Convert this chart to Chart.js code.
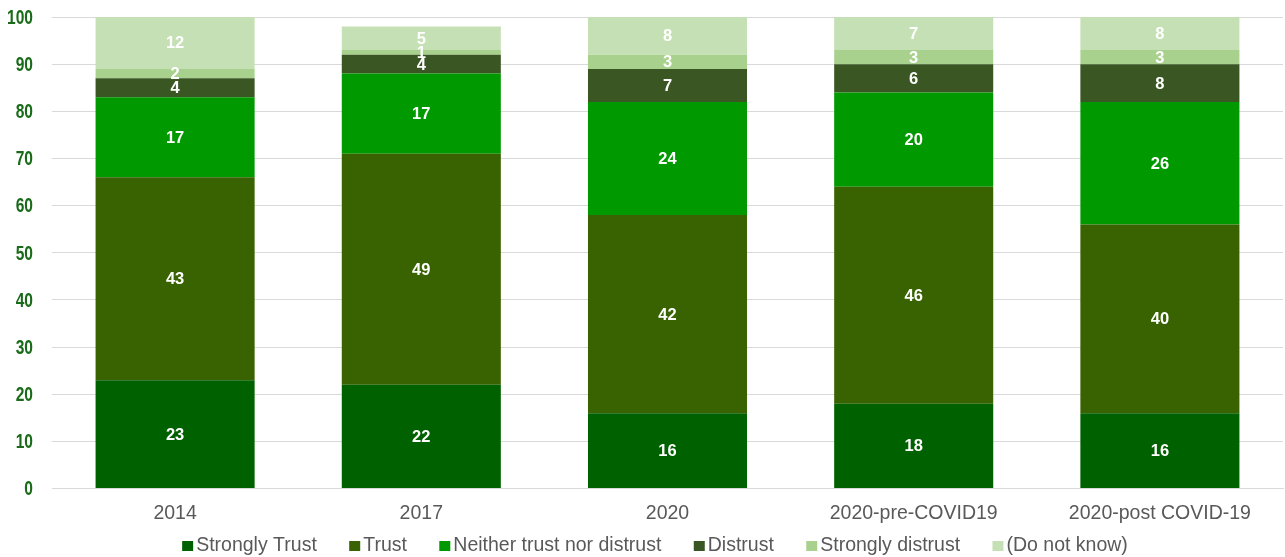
<!DOCTYPE html>
<html>
<head>
<meta charset="utf-8">
<script src="https://cdn.jsdelivr.net/npm/chart.js@4/dist/chart.umd.min.js"></script>
<style>
  html, body { margin: 0; padding: 0; background: #fff; }
  #wrap { width: 1285px; height: 557px; }
</style>
</head>
<body>
<div id="wrap"><canvas id="trustChart"></canvas></div>
<script>
// Survey waves
const waves = ['2014', '2017', '2020', '2020-pre-COVID19', '2020-post COVID-19'];

// Share of answers per wave (%)
const stronglyTrust = [23, 22, 16, 18, 16];
const trust = [43, 49, 42, 46, 40];
const neither = [17, 17, 24, 20, 26];
const distrust = [4, 4, 7, 6, 8];
const stronglyDistrust = [2, 1, 3, 3, 3];
const doNotKnow = [12, 5, 8, 7, 8];

const seriesNames = ['Strongly Trust', 'Trust', 'Neither trust nor distrust', 'Distrust', 'Strongly distrust', '(Do not know)'];
const seriesValues = [stronglyTrust, trust, neither, distrust, stronglyDistrust, doNotKnow];
const seriesColors = ['#006100', '#386300', '#009900', '#3A5623', '#A9D18E', '#C5E0B4'];

const FONT = '"Liberation Sans", Arial, sans-serif';

// white value labels in the middle of each segment
const segmentLabels = {
    id: 'segmentLabels',
    afterDatasetsDraw(chart) {
        const ctx = chart.ctx;
        ctx.save();
        ctx.fillStyle = '#ffffff';
        ctx.font = 'bold 16.5px ' + FONT;
        ctx.textAlign = 'center';
        ctx.textBaseline = 'middle';
        chart.data.datasets.forEach((ds, i) => {
            const meta = chart.getDatasetMeta(i);
            meta.data.forEach((bar, j) => {
                const v = ds.data[j];
                if (!v) return;
                const top = Math.max(bar.y, chart.chartArea.top);
                ctx.fillText(String(v), bar.x, (top + bar.base) / 2 + 1);
            });
        });
        ctx.restore();
    }
};

// narrow bold numbers on the value axis
const narrowYTicks = {
    id: 'narrowYTicks',
    afterDraw(chart) {
        const ctx = chart.ctx;
        const y = chart.scales.y;
        ctx.save();
        ctx.fillStyle = '#196B19';
        ctx.font = 'bold 21px ' + FONT;
        ctx.textAlign = 'right';
        ctx.textBaseline = 'middle';
        y.ticks.forEach(t => {
            const py = y.getPixelForValue(t.value);
            ctx.save();
            ctx.translate(33, py + 1);
            ctx.scale(0.74, 1);
            ctx.fillText(String(t.value), 0, 0);
            ctx.restore();
        });
        ctx.restore();
    }
};

// legend row under the axis labels: small square, tight text
const bottomLegend = {
    id: 'bottomLegend',
    afterDraw(chart) {
        const ctx = chart.ctx;
        const box = 11, gap = 3, spacing = 32.4, cy = 546;
        ctx.save();
        ctx.font = '19.5px ' + FONT;
        ctx.textBaseline = 'middle';
        ctx.textAlign = 'left';
        const items = chart.data.datasets.map(ds => ({
            text: ds.label,
            color: ds.backgroundColor,
            w: box + gap + ctx.measureText(ds.label).width
        }));
        const total = items.reduce((s, it) => s + it.w, 0) + spacing * (items.length - 1);
        let x = 655 - total / 2;
        items.forEach(it => {
            ctx.fillStyle = it.color;
            ctx.fillRect(x, cy - 5, box, box - 1);
            ctx.fillStyle = '#595959';
            ctx.fillText(it.text, x + box + gap, cy);
            x += it.w + spacing;
        });
        ctx.restore();
    }
};

const ctx = document.getElementById('trustChart').getContext('2d');
new Chart(ctx, {
    type: 'bar',
    data: {
        labels: waves,
        datasets: seriesNames.map((name, i) => ({
            label: name,
            data: seriesValues[i],
            backgroundColor: seriesColors[i],
            borderWidth: 0,
            barPercentage: 0.646,
            categoryPercentage: 1
        }))
    },
    options: {
        responsive: true,
        maintainAspectRatio: false,
        animation: false,
        layout: { padding: { top: 17, left: 52, right: 2, bottom: 19 } },
        scales: {
            x: {
                stacked: true,
                grid: { display: false, drawTicks: false },
                border: { display: true, color: '#d9d9d9' },
                ticks: {
                    color: '#595959',
                    font: { family: FONT, size: 19.5 },
                    padding: 13
                }
            },
            y: {
                stacked: true,
                min: 0,
                max: 100,
                border: { display: false },
                grid: { color: '#d9d9d9', drawTicks: false },
                ticks: { stepSize: 10, display: false }
            }
        },
        plugins: {
            legend: { display: false },
            tooltip: { enabled: false }
        }
    },
    plugins: [segmentLabels, narrowYTicks, bottomLegend]
});
</script>
</body>
</html>
